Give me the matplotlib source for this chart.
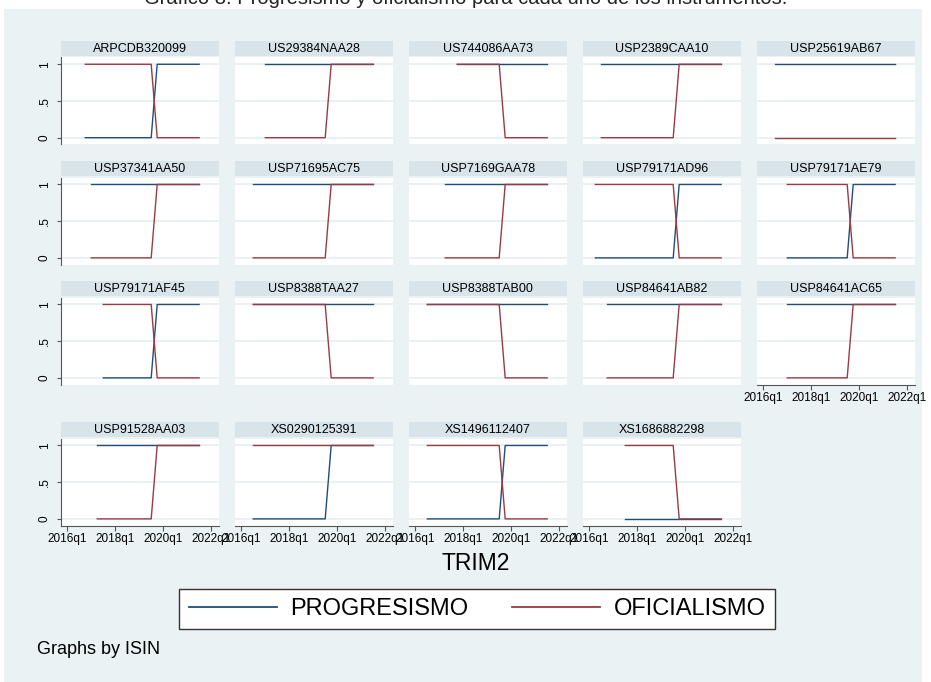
# Stata-style by(ISIN) panel chart: PROGRESISMO vs OFICIALISMO per instrument
import numpy as np
import matplotlib
matplotlib.use("Agg")
import matplotlib.pyplot as plt
from matplotlib.lines import Line2D
from matplotlib.patches import Rectangle

plt.rcParams["font.family"] = ["Liberation Sans", "DejaVu Sans"]

# ===================== DATA =====================
isins = ["ARPCDB320099", "US29384NAA28", "US744086AA73", "USP2389CAA10", "USP25619AB67",
         "USP37341AA50", "USP71695AC75", "USP7169GAA78", "USP79171AD96", "USP79171AE79",
         "USP79171AF45", "USP8388TAA27", "USP8388TAB00", "USP84641AB82", "USP84641AC65",
         "USP91528AA03", "XS0290125391", "XS1496112407", "XS1686882298"]
first_q = ["2016q4", "2017q1", "2017q4", "2016q3", "2016q3",
           "2017q1", "2016q3", "2017q2", "2016q2", "2017q1",
           "2017q3", "2016q3", "2016q3", "2016q4", "2017q1",
           "2017q2", "2016q3", "2016q3", "2017q3"]
last_q = "2021q3"
change_q = "2019q4"          # first quarter with the new value
prog_before = [0, 1, 1, 1, 1, 1, 1, 1, 0, 0, 0, 1, 1, 1, 1, 1, 0, 0, 0]
prog_after  = [1, 1, 1, 1, 1, 1, 1, 1, 1, 1, 1, 1, 1, 1, 1, 1, 1, 1, 0]
ofi_before  = [1, 0, 1, 0, 0, 0, 0, 0, 1, 1, 1, 1, 1, 0, 0, 0, 1, 1, 1]
ofi_after   = [0, 1, 0, 1, 0, 1, 1, 1, 0, 0, 0, 0, 0, 1, 1, 1, 1, 0, 0]
xticks = ["2016q1", "2018q1", "2020q1", "2022q1"]
yticks = [0, 0.5, 1]
ytick_labels = ["0", ".5", "1"]
# ================================================

BG, STRIP, GRID = "#EAF2F3", "#D8E4EA", "#E6EFF2"
C_PROG, C_OFI = "#1F4E79", "#9A3A42"
AX_COL = "#555555"
W, H = 931, 682


def qnum(s):
    y, q = s.split("q")
    return (int(y) - 2016) * 4 + int(q) - 1


def rect(l, t, w, h):
    return [l / W, 1 - (t + h) / H, w / W, h / H]


fig = plt.figure(figsize=(W / 100, H / 100), dpi=100, facecolor="white")
fig.patches.append(Rectangle((4 / W, 0), 917.7 / W, 1 - 9 / H, transform=fig.transFigure,
                             facecolor=BG, edgecolor="none", zorder=-5))
fig.text(0.5, 1 - 4.5 / H, "Gráfico 8. Progresismo y oficialismo para cada uno de los instrumentos.",
         ha="center", va="baseline", fontsize=14.5, color="#222222")

plot_tops = [57.3, 177.5, 297.5, 438.5]
col_left, col_pitch, pw, ph = 60.6, 174.0, 158.3, 87.0
strip_h, gap = 15.0, 1.3
n = len(isins)

for i, name in enumerate(isins):
    r, c = divmod(i, 5)
    left, top = col_left + col_pitch * c, plot_tops[r]
    # title strip
    sax = fig.add_axes(rect(left, top - gap - strip_h, pw, strip_h))
    sax.set_facecolor(STRIP)
    sax.set_xticks([]); sax.set_yticks([])
    for sp in sax.spines.values():
        sp.set_visible(False)
    sax.text(0.5, 0.5, name, ha="center", va="center", fontsize=9, transform=sax.transAxes)

    ax = fig.add_axes(rect(left, top, pw, ph))
    ax.set_facecolor("white")
    q = np.arange(qnum(first_q[i]), qnum(last_q) + 1)
    after = q >= qnum(change_q)
    prog = np.where(after, prog_after[i], prog_before[i])
    ofi = np.where(after, ofi_after[i], ofi_before[i])
    ax.plot(q, prog, color=C_PROG, lw=1.0, zorder=3)
    ax.plot(q, ofi, color=C_OFI, lw=1.0, zorder=4)

    ax.set_xlim(-1.12, 25.3)
    ax.set_ylim(-0.09, 1.095)
    for yv in yticks:
        ax.axhline(yv, color=GRID, lw=1.2, zorder=1)
    for sp in ax.spines.values():
        sp.set_visible(False)

    bottom_panel = (i + 5 >= n)
    if bottom_panel:
        ax.spines["bottom"].set_visible(True)
        ax.spines["bottom"].set_color(AX_COL)
        ax.spines["bottom"].set_linewidth(0.8)
        ax.set_xticks([qnum(t) for t in xticks])
        ax.set_xticklabels(xticks)
        ax.tick_params(axis="x", length=3.5, width=0.8, color=AX_COL, labelsize=8.5, pad=2)
    else:
        ax.set_xticks([])
    if c == 0:
        ax.spines["left"].set_visible(True)
        ax.spines["left"].set_color(AX_COL)
        ax.spines["left"].set_linewidth(0.8)
        ax.set_yticks(yticks)
        ax.set_yticklabels(ytick_labels, rotation=90, va="center")
        ax.tick_params(axis="y", length=3, width=0.8, color=AX_COL, labelsize=8.5, pad=4)
    else:
        ax.set_yticks([])

fig.text(476 / W, 1 - 563 / H, "TRIM2", ha="center", va="center", fontsize=16.5)

handles = [Line2D([], [], color=C_PROG, lw=1.3), Line2D([], [], color=C_OFI, lw=1.3)]
leg = fig.legend(handles, ["PROGRESISMO", "OFICIALISMO"], loc="center",
                 bbox_to_anchor=(477 / W, 1 - 609 / H), ncol=2, fontsize=17,
                 frameon=True, fancybox=False, edgecolor="#333333", framealpha=1,
                 handlelength=3.75, handletextpad=0.55, columnspacing=1.85,
                 borderpad=0.4)
leg.get_frame().set_linewidth(1.0)

fig.text(37 / W, 1 - 650 / H, "Graphs by ISIN", ha="left", va="center", fontsize=13)

fig.savefig("out.png", dpi=100, facecolor="white")
